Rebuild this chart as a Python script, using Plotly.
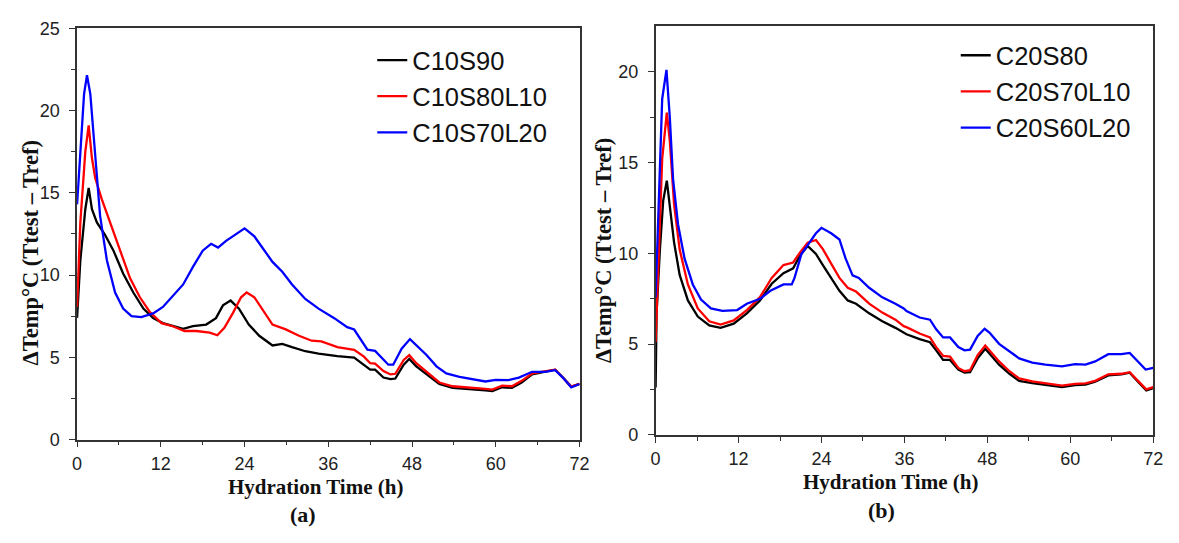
import plotly.graph_objects as go

# ---------------- Panel (a) data ----------------
a_black_t = [0, 0.47, 1.18, 1.66, 2.13, 2.84, 4.0, 5.2, 6.6, 8.06, 9.5, 10.9, 12.3, 13.7, 15.2, 16.6, 18.5, 19.9, 20.9, 22.0, 23.2, 24.6, 26.1, 28.0, 29.4, 30.8, 32.7, 34.6,
             37.3, 39.7, 41.1, 42.0, 42.7, 43.9, 44.9, 45.6, 46.8, 47.6, 48.6, 50.1, 51.9, 53.8, 56.2, 58.5, 59.5, 60.9, 62.3, 63.7, 65.2, 67.0, 68.5, 69.6, 70.8, 72]
a_black_v = [7.4, 10.9, 14.0, 15.3, 14.0, 13.2, 12.45, 11.5, 10.1, 8.94, 7.96, 7.38, 7.08, 6.89, 6.73, 6.89, 6.99, 7.38, 8.16, 8.45, 7.96, 6.99, 6.31, 5.72, 5.82, 5.62, 5.37, 5.23,
             5.07, 4.98, 4.55, 4.25, 4.25, 3.77, 3.67, 3.71, 4.55, 4.90, 4.45, 3.96, 3.38, 3.14, 3.08, 2.99, 2.95, 3.18, 3.14, 3.47, 3.96, 4.12, 4.25, 3.77, 3.22, 3.38]

a_red_t = [0, 0.47, 1.18, 1.66, 2.13, 2.6, 3.55, 4.74, 6.16, 7.6, 9.0, 10.4, 12.1, 13.7, 15.4, 17.1, 19.0, 20.1, 21.1, 22.3, 23.5, 24.3, 25.4, 26.8, 28.0, 29.9, 31.8, 33.6,
           35.0, 37.3, 39.7, 41.1, 42.0, 42.7, 43.9, 44.9, 45.6, 46.8, 47.6, 48.6, 50.1, 51.9, 53.8, 56.2, 58.5, 59.5, 60.9, 62.3, 63.7, 65.2, 67.0, 68.5, 69.6, 70.8, 72]
a_red_v = [8.06, 13.2, 17.5, 19.1, 17.1, 15.9, 14.6, 13.2, 11.5, 9.8, 8.65, 7.77, 7.08, 6.89, 6.6, 6.6, 6.5, 6.34, 6.79, 7.67, 8.65, 8.94, 8.65, 7.77, 6.99, 6.7, 6.31, 6.01,
           5.97, 5.62, 5.46, 5.04, 4.64, 4.61, 4.16, 3.96, 4.0, 4.84, 5.13, 4.64, 4.10, 3.47, 3.24, 3.18, 3.08, 3.04, 3.28, 3.24, 3.57, 4.02, 4.12, 4.25, 3.77, 3.22, 3.38]

a_blue_t = [0, 0.5, 1.0, 1.42, 1.9, 2.37, 3.3, 4.27, 5.45, 6.6, 7.8, 9.2, 10.9, 12.3, 13.7, 15.2, 16.6, 18.0, 19.2, 20.2, 21.3, 22.7, 24.0, 25.4, 26.8, 28.0, 29.4, 30.8, 32.7, 34.6,
            36.85, 38.7, 39.7, 40.6, 41.6, 42.7, 43.7, 44.6, 45.3, 46.5, 47.7, 48.6, 50.1, 51.5, 52.9, 54.8, 56.7, 58.5, 60.0, 61.8, 63.3, 65.2, 67.0, 68.5, 69.6, 70.8, 72]
a_blue_v = [14.3, 18.0, 21.0, 22.15, 21.0, 18.5, 13.6, 10.9, 8.94, 7.96, 7.51, 7.44, 7.67, 8.06, 8.74, 9.43, 10.5, 11.48, 11.9, 11.67, 12.06, 12.45, 12.84, 12.35, 11.48, 10.8, 10.2, 9.43, 8.55, 7.96,
            7.38, 6.83, 6.69, 6.11, 5.46, 5.39, 4.94, 4.55, 4.55, 5.52, 6.11, 5.72, 5.13, 4.45, 4.02, 3.81, 3.67, 3.53, 3.63, 3.61, 3.77, 4.12, 4.12, 4.22, 3.77, 3.18, 3.38]

# ---------------- Panel (b) data ----------------
b_black_t = [0, 0.14, 0.62, 1.1, 1.62, 2.05, 2.67, 3.48, 4.67, 6.1, 7.76, 9.4, 11.3, 13.2, 15.1, 16.8, 18.5, 19.9, 20.9, 22.0, 23.2, 24.2, 25.4, 26.6, 27.8, 29.0, 30.9, 32.8, 34.7, 35.9,
             36.3, 38.2, 39.7, 40.6, 41.6, 42.6, 43.8, 44.7, 45.5, 46.6, 47.7, 48.3, 49.7, 51.2, 52.6, 54.5, 56.4, 58.8, 60.7, 62.2, 63.6, 65.5, 67.4, 68.6, 69.8, 71.0, 72]
b_black_v = [2.6, 6.7, 10.2, 12.9, 14.0, 12.7, 10.6, 8.81, 7.4, 6.51, 6.02, 5.89, 6.12, 6.69, 7.4, 8.32, 8.9, 9.17, 9.88, 10.4, 9.96, 9.35, 8.64, 7.93, 7.4, 7.22, 6.69, 6.25, 5.89, 5.66,
             5.54, 5.27, 5.1, 4.65, 4.12, 4.12, 3.59, 3.42, 3.45, 4.21, 4.74, 4.48, 3.86, 3.36, 2.97, 2.85, 2.74, 2.62, 2.74, 2.76, 2.92, 3.27, 3.33, 3.42, 2.92, 2.44, 2.57]

b_red_t = [0, 0.48, 0.95, 1.62, 2.05, 2.67, 3.48, 4.67, 6.1, 7.76, 9.4, 11.3, 13.2, 15.1, 16.8, 18.5, 19.9, 20.9, 22.0, 23.2, 24.2, 25.4, 26.6, 27.8, 29.0, 30.9, 32.8, 34.7, 35.9,
           36.3, 38.2, 39.7, 40.6, 41.6, 42.6, 43.8, 44.7, 45.5, 46.6, 47.7, 48.3, 49.7, 51.2, 52.6, 54.5, 56.4, 58.8, 60.7, 62.2, 63.6, 65.5, 67.4, 68.6, 69.8, 71.0, 72]
b_red_v = [5.1, 9.9, 15.2, 17.75, 16.2, 12.7, 10.2, 8.28, 6.96, 6.25, 6.07, 6.3, 6.87, 7.58, 8.64, 9.35, 9.49, 10.05, 10.58, 10.73, 10.23, 9.43, 8.64, 8.1, 7.89, 7.22, 6.73, 6.34, 5.98,
           5.93, 5.58, 5.36, 4.83, 4.34, 4.3, 3.68, 3.5, 3.56, 4.39, 4.92, 4.65, 4.04, 3.5, 3.1, 2.94, 2.83, 2.71, 2.8, 2.83, 2.97, 3.33, 3.36, 3.45, 2.97, 2.5, 2.62]

b_blue_t = [0, 0.48, 0.95, 1.57, 2.05, 2.52, 3.24, 4.19, 5.38, 6.57, 8.0, 9.67, 11.8, 13.2, 15.1, 16.6, 18.5, 19.7, 20.1, 21.1, 22.3, 23.2, 24.0, 25.4, 26.6, 27.5, 28.5, 29.4, 30.9, 32.8, 34.7, 35.9,
            36.3, 38.2, 39.7, 40.6, 41.6, 42.6, 43.8, 44.7, 45.5, 46.6, 47.6, 48.3, 49.7, 51.2, 52.6, 54.5, 56.4, 58.8, 60.7, 62.2, 63.6, 65.5, 67.4, 68.6, 69.8, 70.9, 72]
b_blue_v = [7.57, 13.8, 18.5, 20.1, 17.5, 14.1, 11.6, 9.7, 8.28, 7.45, 6.96, 6.83, 6.87, 7.22, 7.49, 7.93, 8.28, 8.28, 8.64, 9.96, 10.58, 11.1, 11.4, 11.1, 10.76, 9.7, 8.78, 8.64, 8.1, 7.57, 7.22, 6.96,
            6.81, 6.46, 6.34, 5.81, 5.36, 5.36, 4.83, 4.65, 4.69, 5.45, 5.84, 5.63, 5.01, 4.57, 4.21, 3.98, 3.86, 3.77, 3.89, 3.86, 4.04, 4.44, 4.44, 4.51, 4.04, 3.59, 3.68]

names_a = ["C10S90", "C10S80L10", "C10S70L20"]
names_b = ["C20S80", "C20S70L10", "C20S60L20"]
colors = ["#000000", "#ff0000", "#0000ff"]
x_ticks = [0, 12, 24, 36, 48, 60, 72]

W, H = 1179, 543
def px(x): return x / W
def py(y): return 1 - y / H

fig = go.Figure()
for t, v, n, c in zip([a_black_t, a_red_t, a_blue_t], [a_black_v, a_red_v, a_blue_v], names_a, colors):
    fig.add_trace(go.Scatter(x=t, y=v, mode="lines", name=n, line=dict(color=c, width=2.3),
                             xaxis="x", yaxis="y", legend="legend"))
for t, v, n, c in zip([b_black_t, b_red_t, b_blue_t], [b_black_v, b_red_v, b_blue_v], names_b, colors):
    fig.add_trace(go.Scatter(x=t, y=v, mode="lines", name=n, line=dict(color=c, width=2.3),
                             xaxis="x2", yaxis="y2", legend="legend2"))

tickfont = dict(family="Liberation Sans, Arial", size=18, color="#222")
axcommon = dict(showline=True, linecolor="#333", linewidth=1.5, mirror=True, showgrid=False,
                zeroline=False, ticks="outside", ticklen=6, tickwidth=1.3, tickcolor="#333",
                tickfont=tickfont, fixedrange=True)
xminor = dict(tickvals=[6, 18, 30, 42, 54, 66], ticklen=4, tickcolor="#333", ticks="outside")

legfont = dict(family="Liberation Sans, Arial", size=25.5, color="#111")
fig.update_layout(
    width=W, height=H, margin=dict(l=0, r=0, t=0, b=0),
    paper_bgcolor="white", plot_bgcolor="white",
    xaxis=dict(domain=[px(73), px(582)], range=[0, 72], tickvals=x_ticks, anchor="y",
               ticklabelstandoff=1, minor=xminor, **axcommon),
    yaxis=dict(domain=[py(446), py(19)], range=[0, 25], tickvals=[0, 5, 10, 15, 20, 25], anchor="x",
               ticklabelstandoff=6,
               minor=dict(tickvals=[2.5, 7.5, 12.5, 17.5, 22.5], ticklen=4, tickcolor="#333", ticks="outside"), **axcommon),
    xaxis2=dict(domain=[px(659), px(1163)], range=[0, 72], tickvals=x_ticks, anchor="y2",
                ticklabelstandoff=1, minor=xminor, **axcommon),
    yaxis2=dict(domain=[py(441), py(17)], range=[0, 22.5], tickvals=[0, 5, 10, 15, 20], anchor="x2",
                ticklabelstandoff=6,
                minor=dict(tickvals=[2.5, 7.5, 12.5, 17.5], ticklen=4, tickcolor="#333", ticks="outside"), **axcommon),
    legend=dict(x=px(372), y=py(28), xanchor="left", yanchor="top", bgcolor="rgba(0,0,0,0)",
                font=legfont, tracegroupgap=0),
    legend2=dict(x=px(963), y=py(23), xanchor="left", yanchor="top", bgcolor="rgba(0,0,0,0)",
                 font=legfont, tracegroupgap=0),
    showlegend=True,
)

title_font = dict(family="Liberation Serif, Times New Roman", size=21, color="#111")
ytitle_font = dict(family="Liberation Serif, Times New Roman", size=22.5, color="#111")
lab_font = dict(family="Liberation Serif, Times New Roman", size=22, color="#111")
ylab = "<b>\u0394Temp\u00b0C (Ttest \u2013 Tref)</b>"
anns = [
    dict(text="<b>Hydration Time (h)</b>", x=px(314), y=py(495), font=title_font),
    dict(text="<b>Hydration Time (h)</b>", x=px(897), y=py(490), font=title_font),
    dict(text="<b>(a)</b>", x=px(302), y=py(524), font=lab_font),
    dict(text="<b>(b)</b>", x=px(888), y=py(520), font=lab_font),
    dict(text=ylab, x=px(26), y=py(252), textangle=-90, font=ytitle_font),
    dict(text=ylab, x=px(607), y=py(250), textangle=-90, font=ytitle_font),
]
for a in anns:
    fig.add_annotation(xref="paper", yref="paper", showarrow=False, xanchor="center", yanchor="middle", **a)

fig.write_html("out.html")
